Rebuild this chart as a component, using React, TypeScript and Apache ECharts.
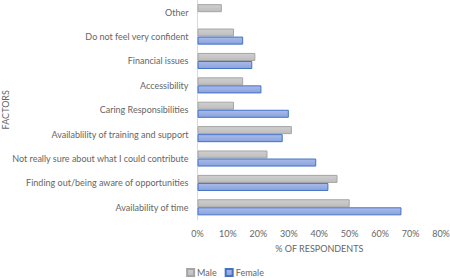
import React, { useEffect, useRef } from "react";
import * as echarts from "echarts";

const categories = [
  "Availability of time",
  "Finding out/being aware of opportunities",
  "Not really sure about what I could contribute",
  "Availablility of training and support",
  "Caring Responsibilities",
  "Accessibility",
  "Financial issues",
  "Do not feel very confident",
  "Other",
];
const maleValues = [50, 46, 23, 31, 12, 15, 19, 12, 8];
const femaleValues = [67, 43, 39, 28, 30, 21, 18, 15, null];
const xTicks = [0, 10, 20, 30, 40, 50, 60, 70, 80];

const FONT = "Lato";
const TEXT = "#666666";
const FS = 9;

export default function App() {
  const ref = useRef<HTMLDivElement>(null);
  useEffect(() => {
    if (!ref.current) return;
    const chart = echarts.init(ref.current, undefined, { renderer: "svg" });
    chart.setOption({
      animation: false,
      textStyle: { fontFamily: FONT },
      legend: {
        data: ["Male", "Female"],
        bottom: -4,
        left: "center",
        itemWidth: 7,
        itemHeight: 7,
        itemGap: 8,
        icon: "rect",
        textStyle: { fontFamily: FONT, fontSize: FS, color: TEXT, padding: [0, 0, 0, -2] },
      },
      grid: {
        left: 197.5,
        right: 9,
        top: 0,
        bottom: 58.5,
        containLabel: false,
        outerBoundsMode: "none",
      },
      xAxis: {
        type: "value",
        min: xTicks[0],
        max: xTicks[xTicks.length - 1],
        interval: 10,
        name: "% OF RESPONDENTS",
        nameLocation: "middle",
        nameGap: 24,
        nameMoveOverlap: false,
        nameTextStyle: { fontFamily: FONT, fontSize: FS, color: TEXT },
        axisLine: { show: false },
        axisTick: { show: false },
        splitLine: { show: false },
        axisLabel: {
          formatter: (v: number) => v + "%",
          fontFamily: FONT,
          fontSize: FS,
          color: TEXT,
          margin: 9,
        },
      },
      yAxis: {
        type: "category",
        data: categories,
        name: "FACTORS",
        nameLocation: "middle",
        nameGap: 188,
        nameRotate: 90,
        nameMoveOverlap: false,
        nameTextStyle: { fontFamily: FONT, fontSize: FS, color: TEXT },
        axisLine: { show: true, lineStyle: { color: "#d9d9d9", width: 1 } },
        axisTick: { show: false },
        axisLabel: { fontFamily: FONT, fontSize: FS, color: TEXT, margin: 9 },
      },
      series: [
        {
          name: "Male",
          type: "bar",
          data: maleValues,
          barGap: "0%",
          barCategoryGap: "34%",
          itemStyle: {
            color: new echarts.graphic.LinearGradient(0, 0, 0, 1, [
              { offset: 0, color: "#cfcfcf" },
              { offset: 1, color: "#bdbdbd" },
            ]),
            borderColor: "#a5a5a5",
            borderWidth: 1,
          },
        },
        {
          name: "Female",
          type: "bar",
          data: femaleValues,
          barGap: "0%",
          barCategoryGap: "34%",
          itemStyle: {
            color: new echarts.graphic.LinearGradient(0, 0, 0, 1, [
              { offset: 0, color: "#a9bbeb" },
              { offset: 1, color: "#8aa2dc" },
            ]),
            borderColor: "#4472c4",
            borderWidth: 1,
          },
        },
      ],
    });
    return () => chart.dispose();
  }, []);
  return (
    <div
      ref={ref}
      style={{ position: "absolute", left: 0, top: 0, width: 450, height: 278 }}
    />
  );
}
